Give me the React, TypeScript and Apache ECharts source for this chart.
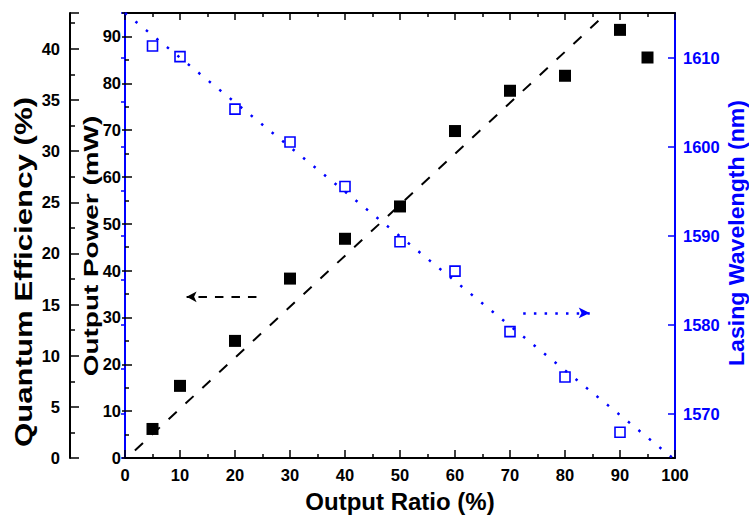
import React, { useEffect, useRef } from "react";
import * as echarts from "echarts";

// ---- data ----
const ratio = [5, 10, 20, 30, 40, 50, 60, 70, 80, 90, 95];
const power = [6.2, 15.4, 25.0, 38.3, 46.8, 53.7, 69.8, 78.4, 81.6, 91.4, 85.5];

const wlRatio = [5, 10, 20, 30, 40, 50, 60, 70, 80, 90];
const wavelength = [1611.3, 1610.1, 1604.2, 1600.5, 1595.5, 1589.3, 1586.0, 1579.2, 1574.1, 1567.9];

// linear fits drawn in the figure (end points)
const powerFitX = [1.8, 90];
const powerFitY = [1.6, 97.6];
const wlFitX = [0, 100];
const wlFitY = [1615, 1564.8];

// annotation arrows (data coordinates)
const powerArrowX = [23.9, 11.2];
const powerArrowY = 34.4;
const wlArrowX = [72.4, 84.5];
const wlArrowY = 1581.3;

const wlMajorTicks = [1570, 1580, 1590, 1600, 1610];

const FONT = "'Liberation Sans', Arial, Helvetica, sans-serif";
const BLUE = "#0000ff";

export default function App() {
  const ref = useRef<HTMLDivElement>(null);

  useEffect(() => {
    if (!ref.current) return;
    const chart = echarts.init(ref.current, null, { renderer: "svg" });

    const tickLabel = (color = "#000") => ({
      fontFamily: FONT,
      fontWeight: "bold" as const,
      fontSize: 16.5,
      color,
    });

    const option: any = {
      animation: false,
      backgroundColor: "#fff",
      grid: {
        left: 125,
        right: 74,
        top: 13,
        bottom: 58,
        containLabel: false,
        outerBoundsMode: "none",
      },
      xAxis: [
        {
          type: "value",
          position: "bottom",
          min: 0,
          max: 100,
          interval: 10,
          name: "Output Ratio (%)",
          nameLocation: "middle",
          nameGap: 31,
          nameTextStyle: { fontFamily: FONT, fontWeight: "bold", fontSize: 24, color: "#000" },
          axisLine: { show: true, onZero: false, lineStyle: { color: "#000", width: 2 } },
          axisTick: { show: true, inside: true, length: 8, lineStyle: { color: "#000", width: 1.5 } },
          minorTick: { show: true, splitNumber: 2, length: 4, lineStyle: { color: "#000", width: 1.5 } },
          axisLabel: { ...tickLabel(), margin: 8 },
          splitLine: { show: false },
        },
        {
          type: "value",
          position: "top",
          min: 0,
          max: 100,
          interval: 10,
          axisLine: { show: true, onZero: false, lineStyle: { color: "#000", width: 2 } },
          axisTick: { show: true, inside: true, length: 7, lineStyle: { color: "#000", width: 1.5 } },
          minorTick: { show: true, splitNumber: 2, length: 4, lineStyle: { color: "#000", width: 1.5 } },
          axisLabel: { show: false },
          splitLine: { show: false },
        },
      ],
      yAxis: [
        {
          // 0: Output Power (inner left)
          type: "value",
          position: "left",
          min: 0,
          max: 95,
          interval: 10,
          axisLine: { show: true, onZero: false, lineStyle: { color: BLUE, width: 2 } },
          axisTick: { show: true, inside: true, length: 7, lineStyle: { color: "#000", width: 1.5 } },
          minorTick: { show: true, splitNumber: 2, length: 4, lineStyle: { color: "#000", width: 1.5 } },
          axisLabel: { ...tickLabel(), margin: 4, showMaxLabel: false },
          splitLine: { show: false },
        },
        {
          // 1: Quantum Efficiency (outer left)
          type: "value",
          position: "left",
          offset: 55,
          min: 0,
          max: 43.5,
          interval: 5,
          axisLine: { show: true, onZero: false, lineStyle: { color: "#000", width: 2 } },
          axisTick: { show: true, inside: true, length: 9, lineStyle: { color: "#000", width: 1.5 } },
          minorTick: { show: true, splitNumber: 2, length: 5, lineStyle: { color: "#000", width: 1.5 } },
          axisLabel: { ...tickLabel(), margin: 10, showMaxLabel: false },
          splitLine: { show: false },
        },
        {
          // 2: Lasing Wavelength (right), major ticks + labels
          type: "value",
          position: "right",
          min: 1565,
          max: 1615,
          interval: 5,
          axisLine: { show: true, onZero: false, lineStyle: { color: BLUE, width: 2 } },
          axisTick: {
            show: true,
            inside: true,
            length: 7,
            customValues: wlMajorTicks,
            lineStyle: { color: BLUE, width: 1.5 },
          },
          axisLabel: {
            ...tickLabel(BLUE),
            margin: 8,
            customValues: wlMajorTicks,
            formatter: (v: number) => String(v),
          },
          splitLine: { show: false },
        },
        {
          // 3: wavelength minor ticks
          type: "value",
          position: "right",
          min: 1565,
          max: 1615,
          interval: 5,
          axisLine: { show: false },
          axisTick: { show: true, inside: true, length: 4, lineStyle: { color: BLUE, width: 1.5 } },
          axisLabel: { show: false },
          splitLine: { show: false },
        },
        {
          // 4: short outward stubs of the power axis major ticks
          type: "value",
          position: "left",
          min: 0,
          max: 95,
          interval: 10,
          axisLine: { show: false },
          axisTick: { show: true, inside: false, length: 3, lineStyle: { color: "#000", width: 1.5 } },
          axisLabel: { show: false },
          splitLine: { show: false },
        },
      ],
      graphic: [
        {
          type: "text",
          x: 24,
          y: 272,
          rotation: Math.PI / 2,
          scaleX: 1.3,
          style: {
            text: "Quantum Efficiency (%)",
            fontFamily: FONT,
            fontWeight: "bold",
            fontSize: 24,
            fill: "#000",
            align: "center",
            verticalAlign: "middle",
          },
        },
        {
          type: "text",
          x: 91,
          y: 246,
          rotation: Math.PI / 2,
          scaleX: 1.33,
          style: {
            text: "Output Power (mW)",
            fontFamily: FONT,
            fontWeight: "bold",
            fontSize: 21,
            fill: "#000",
            align: "center",
            verticalAlign: "middle",
          },
        },
        {
          type: "text",
          x: 737,
          y: 233,
          rotation: Math.PI / 2,
          scaleX: 1.05,
          style: {
            text: "Lasing Wavelength (nm)",
            fontFamily: FONT,
            fontWeight: "bold",
            fontSize: 22,
            fill: BLUE,
            align: "center",
            verticalAlign: "middle",
          },
        },
      ],
      series: [
        {
          name: "Power fit",
          type: "line",
          xAxisIndex: 0,
          yAxisIndex: 0,
          data: powerFitX.map((x, i) => [x, powerFitY[i]]),
          showSymbol: false,
          symbol: "none",
          clip: true,
          lineStyle: { color: "#000", width: 2, type: [11, 12] },
          z: 2,
          markLine: {
            silent: true,
            symbol: ["none", "arrow"],
            symbolSize: [8, 10],
            label: { show: false },
            lineStyle: { color: "#000", width: 2, type: [8.5, 8] },
            data: [
              [
                { coord: [powerArrowX[0], powerArrowY] },
                { coord: [powerArrowX[1], powerArrowY] },
              ],
            ],
          },
        },
        {
          name: "Wavelength fit",
          type: "line",
          xAxisIndex: 0,
          yAxisIndex: 2,
          data: wlFitX.map((x, i) => [x, wlFitY[i]]),
          showSymbol: false,
          symbol: "none",
          clip: true,
          lineStyle: { color: BLUE, width: 2.5, type: [2.5, 11] },
          z: 2,
          markLine: {
            silent: true,
            symbol: ["none", "arrow"],
            symbolSize: [8, 11],
            label: { show: false },
            lineStyle: { color: BLUE, width: 2.5, type: [2.5, 8.2] },
            data: [
              [
                { coord: [wlArrowX[0], wlArrowY] },
                { coord: [wlArrowX[1], wlArrowY] },
              ],
            ],
          },
        },
        {
          name: "Output Power",
          type: "scatter",
          xAxisIndex: 0,
          yAxisIndex: 0,
          symbol: "rect",
          symbolSize: 12,
          itemStyle: { color: "#000", opacity: 1 },
          data: ratio.map((x, i) => [x, power[i]]),
          z: 4,
        },
        {
          name: "Lasing Wavelength",
          type: "scatter",
          xAxisIndex: 0,
          yAxisIndex: 2,
          symbol: "rect",
          symbolSize: 10,
          itemStyle: { color: "rgba(255,255,255,0)", borderColor: BLUE, borderWidth: 1.6, opacity: 1 },
          data: wlRatio.map((x, i) => [x, wavelength[i]]),
          z: 4,
        },
      ],
    };

    chart.setOption(option);
    return () => chart.dispose();
  }, []);

  return (
    <div
      ref={ref}
      style={{ position: "absolute", left: 0, top: 0, width: 749, height: 516, background: "#fff" }}
    />
  );
}
